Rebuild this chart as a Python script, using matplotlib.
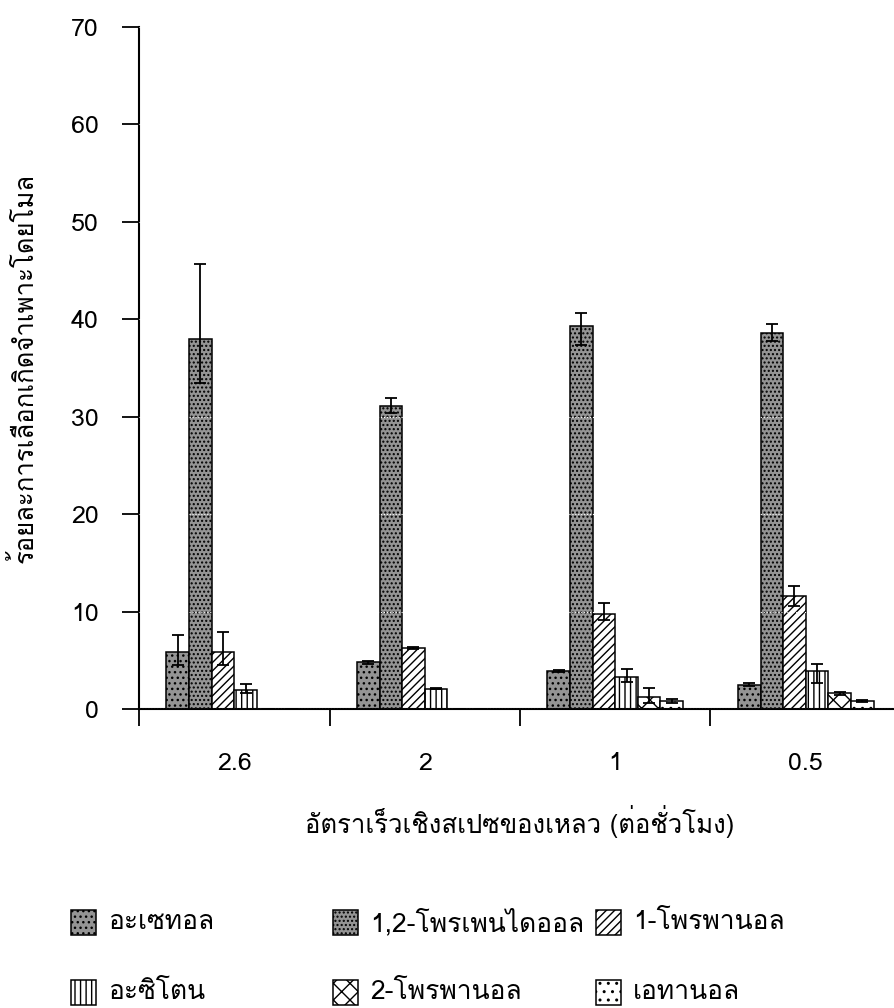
import numpy as np
import matplotlib
matplotlib.use('Agg')
import matplotlib.pyplot as plt
from matplotlib import font_manager
from matplotlib.patches import Rectangle
from fontTools.ttLib import TTFont

# pick a font that has Thai glyphs (Loma looks closest to the original)
thai_fonts = []
for f in font_manager.fontManager.ttflist:
    try:
        tt = TTFont(f.fname, fontNumber=0, lazy=True)
        cmap = tt.getBestCmap()
        if cmap and 0x0E2D in cmap and f.name not in thai_fonts:
            thai_fonts.append(f.name)
    except Exception:
        pass
thai_font = 'DejaVu Sans'
for name in ['Loma', 'Noto Sans Thai Looped', 'Noto Sans Thai']:
    if name in thai_fonts:
        thai_font = name
        break
else:
    if thai_fonts:
        thai_font = thai_fonts[0]
plt.rcParams['font.family'] = [thai_font, 'DejaVu Sans']

rates = ['2.6', '2', '1', '0.5']
products = ['อะเซทอล', '1,2-โพรเพนไดออล', '1-โพรพานอล',
            'อะซิโตน', '2-โพรพานอล', 'เอทานอล']

acetol = [5.8, 4.8, 3.9, 2.5]
acetol_lo = [1.3, 0.15, 0.1, 0.15]
acetol_hi = [1.8, 0.15, 0.1, 0.15]

propanediol = [37.9, 31.1, 39.3, 38.6]
propanediol_lo = [4.5, 0.75, 2.0, 0.85]
propanediol_hi = [7.7, 0.75, 1.35, 0.9]

propanol1 = [5.85, 6.3, 9.75, 11.6]
propanol1_lo = [1.3, 0.1, 0.6, 1.0]
propanol1_hi = [2.0, 0.1, 1.1, 1.05]

acetone = [2.0, 2.1, 3.3, 3.85]
acetone_lo = [0.35, 0.05, 0.55, 1.2]
acetone_hi = [0.6, 0.05, 0.8, 0.8]

propanol2 = [0, 0, 1.25, 1.6]
propanol2_lo = [0, 0, 0.6, 0.15]
propanol2_hi = [0, 0, 0.9, 0.15]

ethanol = [0, 0, 0.85, 0.85]
ethanol_lo = [0, 0, 0.2, 0.1]
ethanol_hi = [0, 0, 0.2, 0.1]

series = [acetol, propanediol, propanol1, acetone, propanol2, ethanol]
lows = [acetol_lo, propanediol_lo, propanol1_lo, acetone_lo, propanol2_lo, ethanol_lo]
highs = [acetol_hi, propanediol_hi, propanol1_hi, acetone_hi, propanol2_hi, ethanol_hi]

faces = ['#949494', '#949494', 'white', 'white', 'white', 'white']
hatches = ['...', '....', '////', '|||', 'xx', '..']

fig = plt.figure(figsize=(8.94, 10.08), dpi=100)
ax = fig.add_axes([0.1555, 0.2966, 0.8523, 0.6771])

x = np.arange(len(rates))
w = 0.1187
for i in range(len(series)):
    ax.bar(x + (i - 2.5) * w, series[i], w, color=faces[i], hatch=hatches[i],
           edgecolor='black', linewidth=1.1, zorder=2)
    ax.errorbar(x + (i - 2.5) * w, series[i], yerr=[lows[i], highs[i]],
                fmt='none', ecolor='black', elinewidth=1.3, capsize=4.5,
                capthick=1.3, zorder=3)

# faint white dotted grid that shows through the bars
ax.set_axisbelow(False)
ax.yaxis.grid(True, color='white', linestyle=':', linewidth=0.8)

ax.set_xlim(-0.5, 3.5)
ax.set_ylim(0, 70)
ax.set_yticks(np.arange(0, 71, 10))
ax.set_xticks(np.arange(-0.5, 4, 1))
ax.set_xticklabels([])
ax.set_xticks(x, minor=True)
ax.set_xticklabels(rates, minor=True)
ax.tick_params(axis='x', which='major', direction='out', length=12, width=1.3)
ax.tick_params(axis='x', which='minor', length=0, pad=31, labelsize=18)
ax.tick_params(axis='y', direction='out', length=12, width=1.3, pad=17, labelsize=18)

ax.spines['top'].set_visible(False)
ax.spines['right'].set_visible(False)
ax.spines['left'].set_linewidth(1.5)
ax.spines['bottom'].set_linewidth(1.5)

ax.set_xlabel('อัตราเร็วเชิงสเปซของเหลว (ต่อชั่วโมง)', fontsize=18.5)
ax.xaxis.set_label_coords(0.5, -0.14)
ax.set_ylabel('ร้อยละการเลือกเกิดจำเพาะโดยโมล', fontsize=18.5)
ax.yaxis.set_label_coords(-0.1325, 0.5)

# legend drawn by hand to keep the uneven column spacing
leg_x = [71, 333, 596, 71, 333, 596]
leg_y = [922, 922, 922, 992, 992, 992]
for i, name in enumerate(products):
    x0 = leg_x[i] / 894
    y0 = 1 - (leg_y[i] + 12.5) / 1008
    fig.add_artist(Rectangle((x0, y0), 25 / 894, 25 / 1008, transform=fig.transFigure,
                             facecolor=faces[i], hatch=hatches[i], edgecolor='black',
                             linewidth=1.1))
    fig.text(x0 + 37 / 894, 1 - leg_y[i] / 1008, name, fontsize=19, va='center')

plt.savefig('out.png', dpi=100)
